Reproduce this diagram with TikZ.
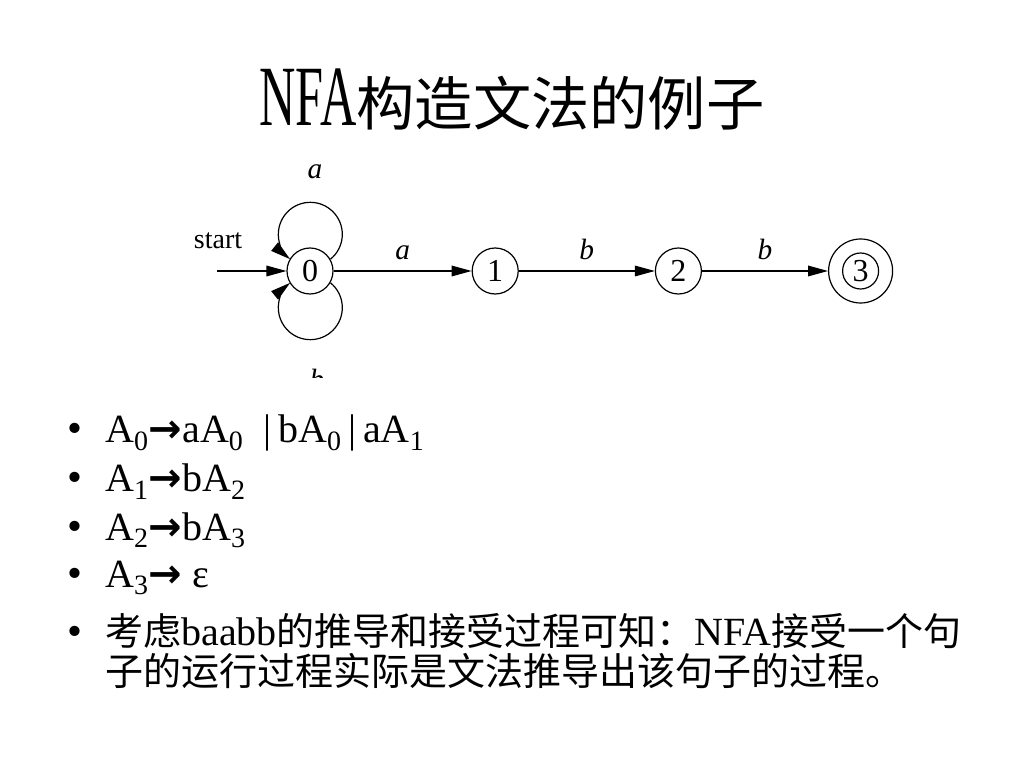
\documentclass[tikz,border=0pt]{standalone}
\usepackage{fontspec}
\usepackage{graphicx}
\setmainfont{Liberation Serif}
\newfontfamily\cjk{Noto Sans CJK SC}[Scale=0.95]
\newfontfamily\symb{DejaVu Sans}
\usetikzlibrary{arrows.meta, positioning}
\newcommand{\der}{{\symb\bfseries →}}
\newcommand{\nt}[1]{A\textsubscript{#1}}

\begin{document}
\begin{tikzpicture}[x=0.75pt, y=0.75pt,
  state/.style={draw, circle, line width=0.9pt, minimum size=34.5pt, inner sep=0pt,
                font=\fontsize{24}{26}\selectfont},
  trans/.style={-{Triangle[length=15pt, width=8pt]}, line width=0.9pt},
  lbl/.style={font=\fontsize{22}{24}\selectfont\itshape, inner sep=0pt},
  rule/.style={anchor=base west, inner sep=0pt, font=\fontsize{30}{36}\selectfont},
  bul/.style={anchor=base, inner sep=0pt, font=\fontsize{32}{36}\selectfont}]
  \useasboundingbox[fill=white] (0,0) rectangle (1024,768);
  % title
  \node[font=\fontsize{46}{52}\selectfont] (title) at (512, 668)
       {\scalebox{0.82}[1.4]{NFA}{\cjk 构造文法的例子}};
  % automaton, cut off at the bottom like the scanned figure
  \begin{scope}
    \clip (180, 390) rectangle (930, 620);
    \node[state] (q0) at (310, 497) {0};
    \node[state, right=103.5pt of q0] (q1) {1};
    \node[state, right=102pt of q1] (q2) {2};
    \node[state, minimum size=48pt, right=94.5pt of q2] (q3o) {};
    \node[state, minimum size=27pt] (q3) at (q3o) {3};
    \coordinate[left=52pt of q0] (init);
    \node[font=\fontsize{21}{24}\selectfont, inner sep=0pt] (start) at (218, 527) {start};
    \draw[trans] (init) -- (q0);
    \draw[trans] (q0) -- node[lbl, above=8pt] {a} (q1);
    \draw[trans] (q1) -- node[lbl, above=8pt] {b} (q2);
    \draw[trans] (q2) -- node[lbl, above=8pt] {b} (q3o);
    % self loops on state 0
    \draw[trans] (q0.30) arc[start angle=-51, end angle=231, radius=32];
    \draw[trans] (q0.-30) arc[start angle=51, end angle=-231, radius=32];
    \node[lbl] (la) at (315, 596) {a};
    \node[lbl] (lb) at (317, 389) {b};
  \end{scope}
  % grammar rules
  \node[rule] (r1) at (105, 325) {\nt{0}\der a\nt{0}\ \ |\,b\nt{0}\,|\,a\nt{1}};
  \node[rule] (r2) at (105, 276) {\nt{1}\der b\nt{2}};
  \node[rule] (r3) at (105, 228) {\nt{2}\der b\nt{3}};
  \node[rule] (r4) at (105, 181) {\nt{3}\der\ ε};
  \node[rule] (r5) at (105, 123) {{\cjk 考虑}baabb{\cjk 的推导和接受过程可知：}NFA{\cjk 接受一个句}};
  \node[rule] (r5b) at (105, 83) {{\cjk 子的运行过程实际是文法推导出该句子的过程。}};
  \foreach \i in {1,...,5}
    \node[bul] at ([xshift=-22.5pt] r\i.base west) {•};
\end{tikzpicture}
\end{document}
